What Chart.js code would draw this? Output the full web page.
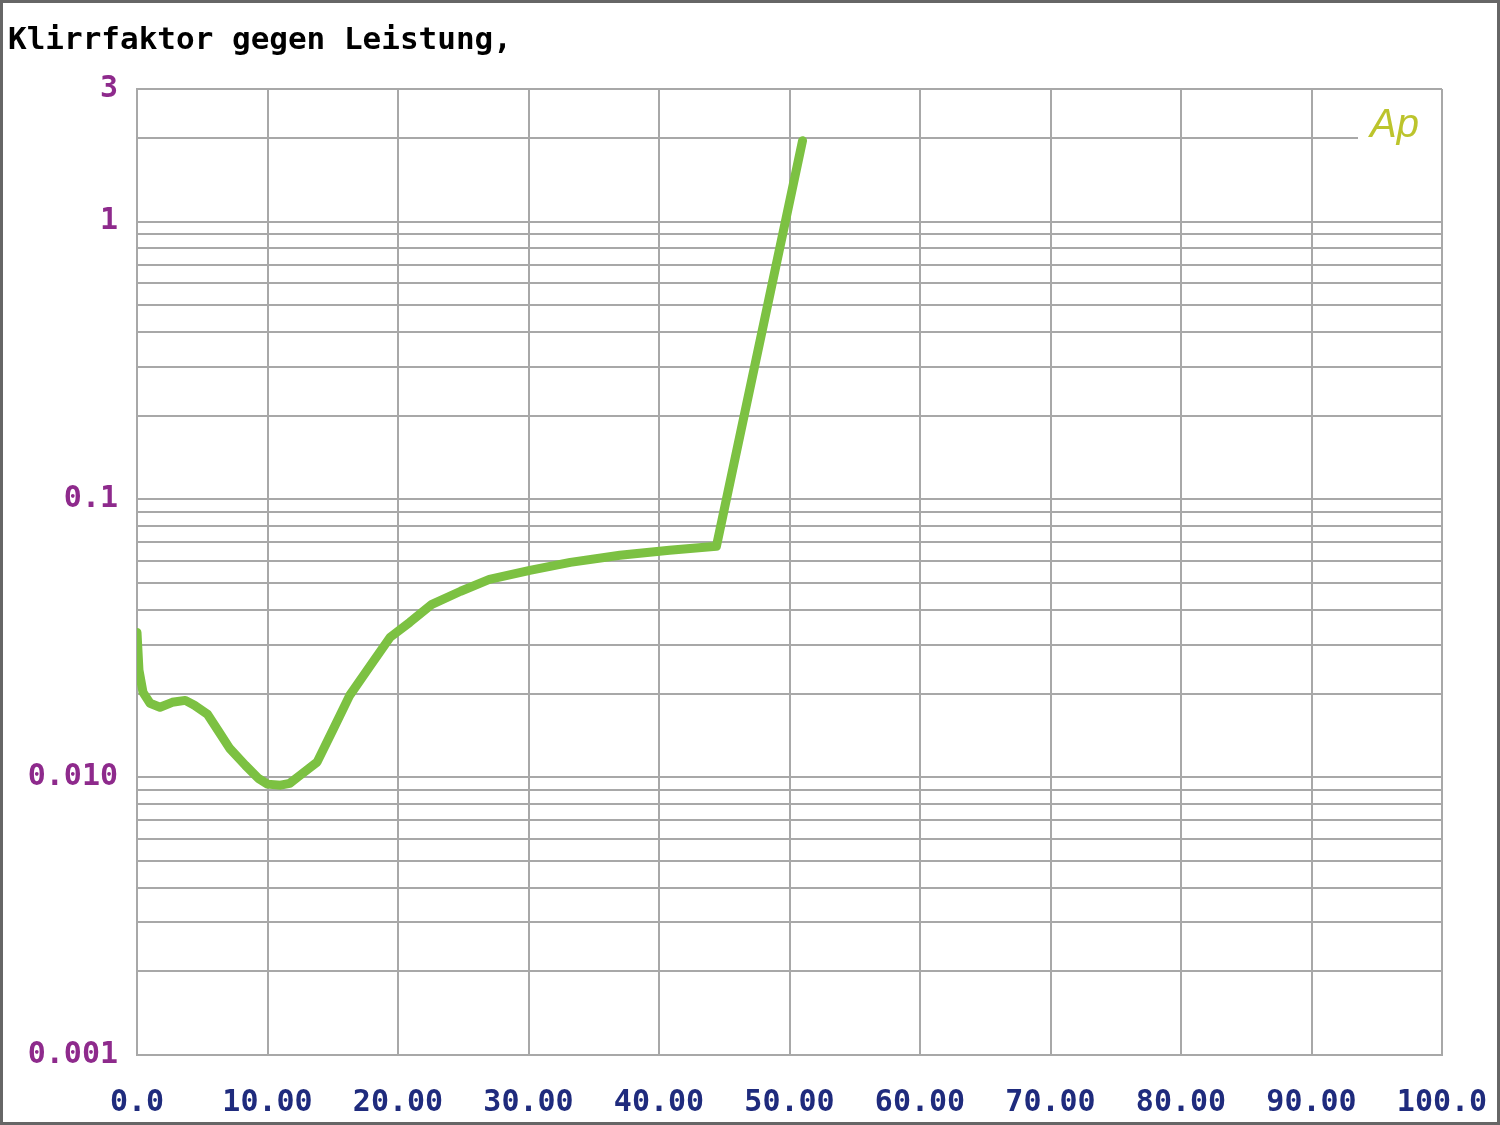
<!DOCTYPE html>
<html>
<head>
<meta charset="utf-8">
<script src="https://cdn.jsdelivr.net/npm/chart.js@4.4.1/dist/chart.umd.min.js"></script>
<style>
  html, body { margin: 0; padding: 0; background: #fff; }
  #wrap { width: 1500px; height: 1125px; position: relative; }
</style>
</head>
<body>
<div id="wrap"><canvas id="graphCanvas" width="1500" height="1125"></canvas></div>
<script>
// Messwerte: Leistung (W) und Klirrfaktor (%)
const leistung = [0, 0.15, 0.46, 1.0, 1.76, 2.7, 3.7, 4.4, 5.4, 6.2, 7.1, 8.3, 9.3, 10.0, 11.0, 11.7, 12.5, 13.8, 15.0, 16.3, 17.9, 19.4, 20.9, 22.6, 24.8, 27.0, 30.1, 33.2, 37.0, 40.8, 44.4, 51.0];
const klirr = [0.0332, 0.0243, 0.0202, 0.01845, 0.01786, 0.0186, 0.0189, 0.01815, 0.01685, 0.01476, 0.0127, 0.01104, 0.0099, 0.00944, 0.00936, 0.0095, 0.01016, 0.01133, 0.01476, 0.0197, 0.0253, 0.0319, 0.0361, 0.0419, 0.0467, 0.0515, 0.0555, 0.0593, 0.0629, 0.0656, 0.0678, 1.955];

// Achsen
const xTickValues = [0, 10, 20, 30, 40, 50, 60, 70, 80, 90, 100];
const xTickLabels = ["0.0", "10.00", "20.00", "30.00", "40.00", "50.00", "60.00", "70.00", "80.00", "90.00", "100.0"];
const yGridValues = [0.001, 0.002, 0.003, 0.004, 0.005, 0.006, 0.007, 0.008, 0.009,
                     0.01, 0.02, 0.03, 0.04, 0.05, 0.06, 0.07, 0.08, 0.09,
                     0.1, 0.2, 0.3, 0.4, 0.5, 0.6, 0.7, 0.8, 0.9,
                     1, 2, 3];
const yLabelValues = [0.001, 0.01, 0.1, 1, 3];
const yLabelTexts = ["0.001", "0.010", "0.1", "1", "3"];

const titel = "Klirrfaktor gegen Leistung,";
const gridColor = '#a8a8a8';
const monoFont = '"DejaVu Sans Mono", monospace';

function nearIdx(arr, v) {
    return arr.findIndex(a => Math.abs(a - v) < a * 1e-6 + 1e-9);
}

// Rahmen, Titel und Ap-Logo
const deko = {
    id: 'deko',
    beforeDraw(chart) {
        const c = chart.ctx;
        c.save();
        c.fillStyle = '#fff';
        c.fillRect(0, 0, chart.width, chart.height);
        c.restore();
    },
    afterDraw(chart) {
        const c = chart.ctx;
        const r = chart.chartArea.right;
        const y2 = chart.scales.y.getPixelForValue(2);
        c.save();
        // Gitterlinie bei 2 endet vor dem Logo
        c.fillStyle = '#fff';
        c.fillRect(1358, y2 - 3, r - 1 - 1358, 6);
        c.strokeStyle = gridColor;
        c.lineWidth = 2;
        c.beginPath();
        c.moveTo(r, y2 - 4);
        c.lineTo(r, y2 + 4);
        c.stroke();
        c.fillStyle = '#bcc42c';
        c.font = 'italic 40px "Liberation Sans", sans-serif';
        c.textBaseline = 'alphabetic';
        c.fillText('Ap', 1370, 137);
        c.fillStyle = '#000';
        c.font = 'bold 31px ' + monoFont;
        c.fillText(titel, 8, 49);
        c.strokeStyle = '#666';
        c.lineWidth = 4;
        c.strokeRect(1, 1, chart.width - 2, chart.height - 2);
        c.restore();
    }
};

const ctx = document.getElementById('graphCanvas').getContext('2d');
new Chart(ctx, {
    type: 'scatter',
    data: {
        datasets: [{
            data: leistung.map((x, i) => ({ x: x, y: klirr[i] })),
            showLine: true,
            borderColor: '#7cc142',
            borderWidth: 9,
            pointRadius: 0,
            tension: 0,
            borderJoinStyle: 'round',
            borderCapStyle: 'round'
        }]
    },
    options: {
        responsive: false,
        animation: false,
        layout: { padding: { top: 89, right: 58, left: 0, bottom: 0 } },
        plugins: { legend: { display: false }, tooltip: { enabled: false } },
        scales: {
            x: {
                type: 'linear', min: 0, max: 100,
                afterBuildTicks: axis => { axis.ticks = xTickValues.map(v => ({ value: v })); },
                afterFit: axis => { axis.height = 70; axis.paddingLeft = 0; axis.paddingRight = 0; },
                grid: { color: gridColor, lineWidth: 2, drawTicks: false },
                border: { color: gridColor, width: 2 },
                ticks: {
                    autoSkip: false, maxRotation: 0, padding: 30,
                    color: '#1f2b7d',
                    font: { family: monoFont, size: 30, weight: 'bold' },
                    callback: v => { const i = nearIdx(xTickValues, v); return i >= 0 ? xTickLabels[i] : ''; }
                }
            },
            y: {
                type: 'logarithmic', min: 0.001, max: 3,
                afterBuildTicks: axis => { axis.ticks = yGridValues.map(v => ({ value: v })); },
                afterFit: axis => { axis.width = 137; axis.paddingTop = 0; axis.paddingBottom = 0; },
                grid: { color: gridColor, lineWidth: 2, drawTicks: false },
                border: { color: gridColor, width: 2 },
                ticks: {
                    autoSkip: false, padding: 19,
                    color: '#8e2a8c',
                    font: { family: monoFont, size: 30, weight: 'bold' },
                    callback: v => { const i = nearIdx(yLabelValues, v); return i >= 0 ? yLabelTexts[i] : ''; }
                }
            }
        }
    },
    plugins: [deko]
});
</script>
</body>
</html>
